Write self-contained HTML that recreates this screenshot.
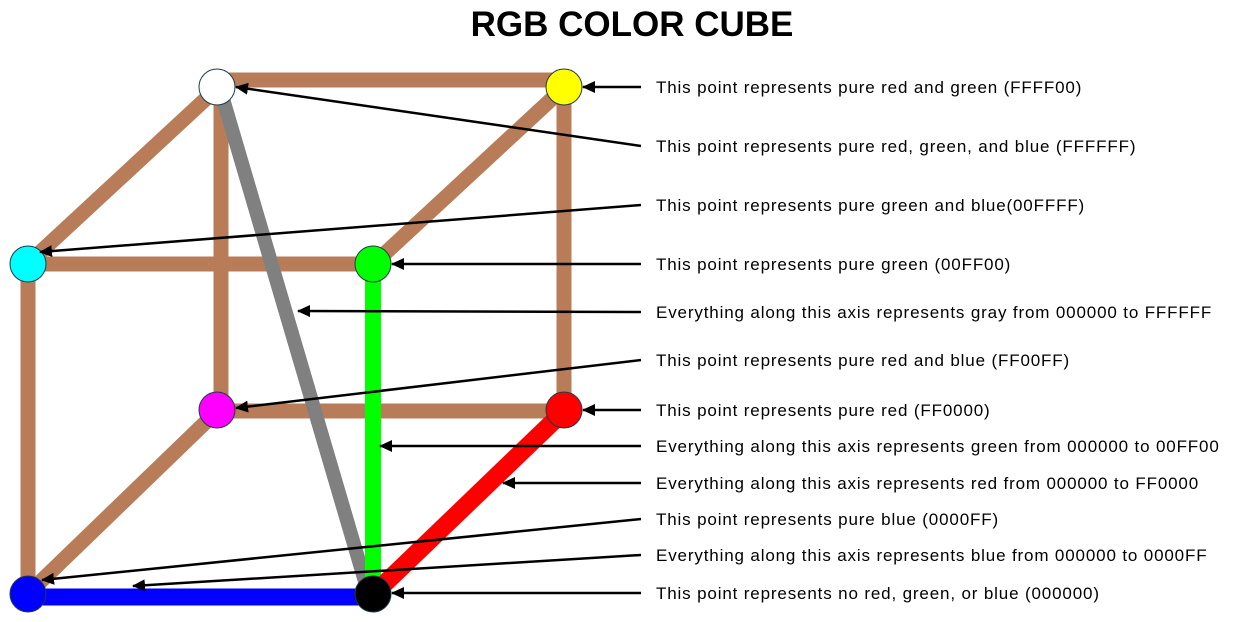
<!DOCTYPE html>
<html><head><meta charset="utf-8"><style>
html,body{margin:0;padding:0;background:#fff;width:1233px;height:622px;overflow:hidden}
svg text{font-family:"Liberation Sans",sans-serif}
</style></head><body>
<svg width="1233" height="622" viewBox="0 0 1233 622" xmlns="http://www.w3.org/2000/svg">
<defs><marker id="a" markerWidth="13" markerHeight="12" refX="12" refY="6" orient="auto" markerUnits="userSpaceOnUse"><path d="M0,0 L13,6 L0,12 Z" fill="#000"/></marker></defs>
<text x="632" y="36" font-size="35" font-weight="bold" text-anchor="middle">RGB COLOR CUBE</text>
<g stroke="#B87C58" stroke-width="15" fill="none">
<line x1="217" y1="80" x2="564" y2="80"/>
<line x1="564" y1="87" x2="564" y2="410"/>
<line x1="221" y1="87" x2="221" y2="410"/>
<line x1="28" y1="264" x2="373" y2="264"/>
<line x1="28" y1="264" x2="28" y2="594"/>
<line x1="217" y1="411" x2="564" y2="411"/>
<line x1="210" y1="95" x2="34" y2="258"/>
<line x1="556" y1="95" x2="380" y2="258"/>
<line x1="210" y1="418" x2="34" y2="588"/>
</g>
<line x1="221" y1="92" x2="366" y2="585" stroke="#808080" stroke-width="14"/>
<line x1="373" y1="270" x2="373" y2="594" stroke="#00FF00" stroke-width="16"/>
<line x1="560" y1="415" x2="378" y2="590" stroke="#FF0000" stroke-width="18"/>
<line x1="28" y1="597" x2="373" y2="597" stroke="#0000FF" stroke-width="17"/>
<g stroke="#1f3a4a" stroke-width="1">
<circle cx="217" cy="87" r="18" fill="#fff"/>
<circle cx="564" cy="87" r="18" fill="#FFFF00"/>
<circle cx="28" cy="264" r="18" fill="#00FFFF"/>
<circle cx="373" cy="264" r="18" fill="#00FF00"/>
<circle cx="217" cy="410" r="18" fill="#FF00FF"/>
<circle cx="564" cy="410" r="18" fill="#FF0000"/>
<circle cx="28" cy="594" r="18" fill="#0000FF"/>
<circle cx="373" cy="594" r="18" fill="#000"/>
</g>
<g stroke="#000" stroke-width="2.5" marker-end="url(#a)">
<line x1="641" y1="87" x2="583" y2="87"/>
<line x1="641" y1="146" x2="236" y2="87"/>
<line x1="641" y1="205" x2="40" y2="252"/>
<line x1="641" y1="264" x2="392" y2="264"/>
<line x1="641" y1="312" x2="298" y2="311"/>
<line x1="641" y1="360" x2="236" y2="408"/>
<line x1="641" y1="410" x2="583" y2="410"/>
<line x1="641" y1="446" x2="380" y2="446"/>
<line x1="641" y1="483" x2="503" y2="483"/>
<line x1="641" y1="519" x2="42" y2="580"/>
<line x1="641" y1="555" x2="133" y2="586"/>
<line x1="641" y1="593" x2="392" y2="593"/>
</g>
<g font-size="17" fill="#000" letter-spacing="0.85">
<text x="656" y="93">This point represents pure red and green (FFFF00)</text>
<text x="656" y="152">This point represents pure red, green, and blue (FFFFFF)</text>
<text x="656" y="211">This point represents pure green and blue(00FFFF)</text>
<text x="656" y="270">This point represents pure green (00FF00)</text>
<text x="656" y="318">Everything along this axis represents gray from 000000 to FFFFFF</text>
<text x="656" y="366">This point represents pure red and blue (FF00FF)</text>
<text x="656" y="416">This point represents pure red (FF0000)</text>
<text x="656" y="452">Everything along this axis represents green from 000000 to 00FF00</text>
<text x="656" y="489">Everything along this axis represents red from 000000 to FF0000</text>
<text x="656" y="525">This point represents pure blue (0000FF)</text>
<text x="656" y="561">Everything along this axis represents blue from 000000 to 0000FF</text>
<text x="656" y="599">This point represents no red, green, or blue (000000)</text>
</g>
</svg>
</body></html>
